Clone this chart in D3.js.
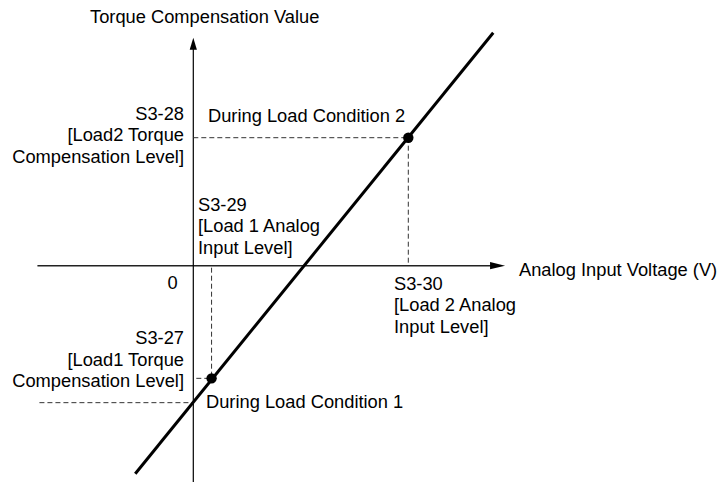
<!DOCTYPE html>
<html>
<head>
<meta charset="utf-8">
<script src="https://cdn.jsdelivr.net/npm/d3@7"></script>
<style>
  html, body { margin: 0; padding: 0; background: #fff; }
  svg text { font-family: "Liberation Sans", Arial, sans-serif; font-size: 18.3px; fill: #000; }
</style>
</head>
<body>
<svg id="chart" width="722" height="482"></svg>
<script>
// Analog input voltage (V) at the two load set-points: S3-29, S3-30
const loadInputLevels = [0.85, 10];
// Torque compensation level (%) at the two load set-points: S3-27, S3-28
const loadTorqueLevels = [-88, 100];
// Compensation characteristic line, drawn end to end
const lineVoltage = [-2.7, 13.95];
const lineTorque = [-162.5, 182];
// Torque compensation at 0 V
const zeroVoltTorque = -107;
// Extents of the two axes
const voltageAxisExtent = [-7.25, 14.5];
const torqueAxisExtent = [-170, 178];

const svg = d3.select("#chart");
const x = d3.scaleLinear().domain([0, 10]).range([193.3, 408.3]);
const y = d3.scaleLinear().domain([0, 100]).range([265.7, 137.7]);

// Axes
const gAxes = svg.append("g");
gAxes.append("line")
  .attr("x1", x(voltageAxisExtent[0])).attr("x2", x(voltageAxisExtent[1]) - 12)
  .attr("y1", y(0)).attr("y2", y(0))
  .attr("stroke", "#222").attr("stroke-width", 1.4);
gAxes.append("line")
  .attr("x1", x(0)).attr("x2", x(0))
  .attr("y1", y(torqueAxisExtent[0])).attr("y2", y(torqueAxisExtent[1]) + 10)
  .attr("stroke", "#000").attr("stroke-width", 1.2);

// Arrow heads
const xt = x(voltageAxisExtent[1]), yt = y(0);
gAxes.append("path")
  .attr("d", `M${xt},${yt} L${xt - 15},${yt - 3.6} L${xt - 15},${yt + 3.6} Z`)
  .attr("fill", "#000");
const ax = x(0), ay = y(torqueAxisExtent[1]);
gAxes.append("path")
  .attr("d", `M${ax},${ay} L${ax - 3.6},${ay + 12} L${ax + 3.6},${ay + 12} Z`)
  .attr("fill", "#000");

// Dashed guide lines
const dash = "5,3";
const guides = [
  // load 2: to torque axis and to voltage axis
  [x(0), y(loadTorqueLevels[1]), x(loadInputLevels[1]), y(loadTorqueLevels[1])],
  [x(loadInputLevels[1]), y(loadTorqueLevels[1]), x(loadInputLevels[1]), y(0)],
  // load 1: from voltage axis down, and from torque axis across
  [x(loadInputLevels[0]), y(0) + 2, x(loadInputLevels[0]), y(loadTorqueLevels[0])],
  [x(0) + 3, y(loadTorqueLevels[0]), x(loadInputLevels[0]), y(loadTorqueLevels[0])],
  // level at 0 V
  [x(voltageAxisExtent[0]) + 2, y(zeroVoltTorque), x(0), y(zeroVoltTorque)]
];
svg.append("g").selectAll("line").data(guides).join("line")
  .attr("x1", d => d[0]).attr("y1", d => d[1])
  .attr("x2", d => d[2]).attr("y2", d => d[3])
  .attr("stroke", "#333").attr("stroke-width", 1)
  .attr("stroke-dasharray", dash);

// Characteristic line
const lineData = lineVoltage.map((v, i) => [v, lineTorque[i]]);
svg.append("path")
  .datum(lineData)
  .attr("d", d3.line().x(d => x(d[0])).y(d => y(d[1])))
  .attr("stroke", "#000").attr("stroke-width", 3).attr("fill", "none");

// Set-point markers
svg.append("g").selectAll("circle")
  .data(loadInputLevels.map((v, i) => [v, loadTorqueLevels[i]]))
  .join("circle")
  .attr("cx", d => x(d[0])).attr("cy", d => y(d[1])).attr("r", 5.2)
  .attr("fill", "#000");

// Text labels
const labels = [
  { lines: ["Torque Compensation Value"], x: 90, y: 22.5, anchor: "start" },
  { lines: ["S3-28", "[Load2 Torque", "Compensation Level]"], x: 184, y: 119.5, anchor: "end" },
  { lines: ["During Load Condition 2"], x: 208, y: 122, anchor: "start" },
  { lines: ["S3-29", "[Load 1 Analog", "Input Level]"], x: 198, y: 210.5, anchor: "start" },
  { lines: ["0"], x: 172.7, y: 289, anchor: "middle" },
  { lines: ["Analog Input Voltage (V)"], x: 519, y: 276, anchor: "start" },
  { lines: ["S3-30", "[Load 2 Analog", "Input Level]"], x: 394, y: 289.5, anchor: "start" },
  { lines: ["S3-27", "[Load1 Torque", "Compensation Level]"], x: 184, y: 344, anchor: "end" },
  { lines: ["During Load Condition 1"], x: 206, y: 408, anchor: "start" }
];
const lineGap = 21.5;
const gText = svg.append("g");
labels.forEach(l => {
  const t = gText.append("text")
    .attr("x", l.x).attr("y", l.y)
    .attr("text-anchor", l.anchor);
  l.lines.forEach((s, i) => {
    t.append("tspan").attr("x", l.x).attr("y", l.y + i * lineGap).text(s);
  });
});
</script>
</body>
</html>
